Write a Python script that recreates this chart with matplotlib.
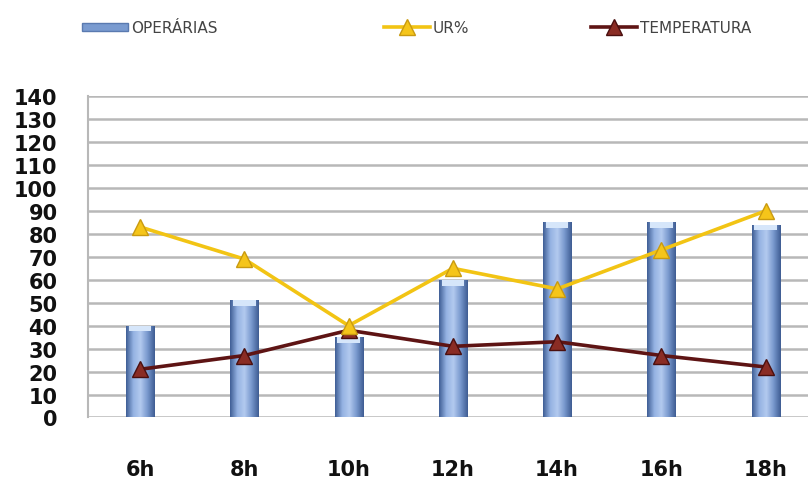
import numpy as np
import matplotlib.pyplot as plt
from matplotlib.colors import LinearSegmentedColormap
from matplotlib.patches import Patch
from matplotlib.lines import Line2D

horas = ['6h', '8h', '10h', '12h', '14h', '16h', '18h']
operarias = [40, 51, 35, 60, 85, 85, 84]
ur = [83, 69, 40, 65, 56, 73, 90]
temperatura = [21, 27, 38, 31, 33, 27, 22]

fig = plt.figure(figsize=(8.08, 4.81), dpi=100)
ax = fig.add_axes([0.109, 0.130, 0.903, 0.668])

x = np.arange(len(horas))
bars = ax.bar(x, operarias, width=0.27, color='#7a9bd0', zorder=2)

# cylinder-like shading on each bar
cmap = LinearSegmentedColormap.from_list('cil', ['#405f96', '#94b2e2', '#b3caef', '#7898cd', '#3f5d93'])
grad = np.linspace(0, 1, 64).reshape(1, -1)
for b in bars:
    x0, w, h = b.get_x(), b.get_width(), b.get_height()
    im = ax.imshow(grad, cmap=cmap, aspect='auto', extent=[x0, x0 + w, 0, h], zorder=2.1)
    im.set_clip_path(b)
    ax.add_patch(plt.Rectangle((x0 + w * 0.1, h - 2.5), w * 0.8, 2.5, color='#d6e6fa', zorder=2.2, lw=0))

ax.plot(x, ur, color='#f2c414', lw=2.6, marker='^', ms=12,
        mfc='#f5c51a', mec='#c99a10', mew=1, zorder=4)
ax.plot(x, temperatura, color='#5e1414', lw=2.6, marker='^', ms=12,
        mfc='#8a2c24', mec='#4a0f0f', mew=1, zorder=3)

ax.set_xlim(-0.5, len(horas) - 0.5)
ax.set_ylim(0, 140)
ax.set_yticks(range(0, 141, 10))
ax.set_xticks(x)
ax.set_xticklabels(horas)
ax.grid(axis='y', color='#b8b8b8', lw=1.8, zorder=0)
ax.set_axisbelow(True)
for s in ['top', 'right', 'bottom']:
    ax.spines[s].set_visible(False)
ax.spines['left'].set_color('#b8b8b8')
ax.spines['left'].set_linewidth(1.5)
ax.tick_params(length=0)
ax.tick_params(axis='y', labelsize=15, pad=22)
ax.tick_params(axis='x', labelsize=15, pad=30)
for t in ax.get_yticklabels() + ax.get_xticklabels():
    t.set_fontweight('bold')
    t.set_color('#111111')

leg_kw = dict(frameon=False, fontsize=11, handlelength=3.0, handletextpad=0.2,
              labelcolor='#444444', loc='center left')
h1 = Patch(facecolor='#7a9bd0', edgecolor='#5a7ab0')
h2 = Line2D([], [], color='#f2c414', lw=2.6, marker='^', ms=11, mfc='#f5c51a', mec='#c99a10')
h3 = Line2D([], [], color='#5e1414', lw=2.6, marker='^', ms=11, mfc='#8a2c24', mec='#4a0f0f')
fig.legend([h1], ['OPERÁRIAS'], bbox_to_anchor=(0.085, 0.94), handleheight=0.5, **leg_kw)
fig.legend([h2], ['UR%'], bbox_to_anchor=(0.458, 0.94), **leg_kw)
fig.legend([h3], ['TEMPERATURA'], bbox_to_anchor=(0.715, 0.94), **leg_kw)

fig.savefig('out.png', dpi=100)
